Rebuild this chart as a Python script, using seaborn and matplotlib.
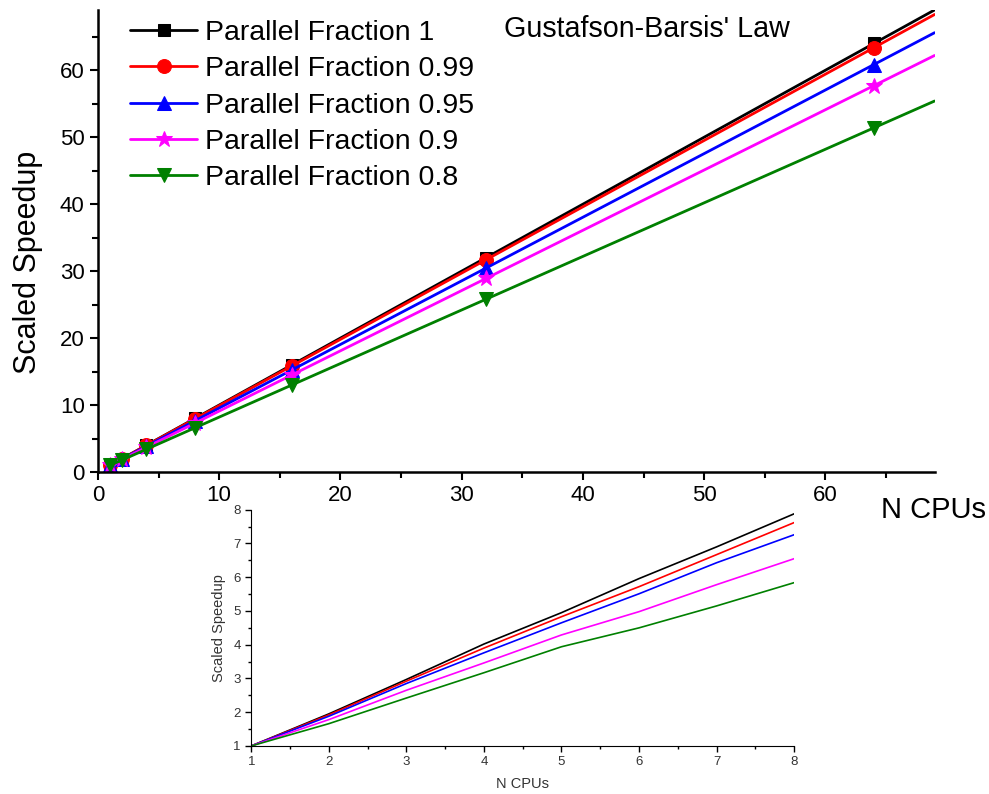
import numpy as np
import pandas as pd
import matplotlib
matplotlib.use("Agg")
import matplotlib.pyplot as plt
from matplotlib.ticker import MultipleLocator
import seaborn as sns

# main chart data
n_cpus = [1, 2, 4, 8, 16, 32, 64, 69]
speed_1 = [1, 2, 4, 8, 16, 32, 64, 69]
speed_099 = [1, 1.99, 3.97, 7.93, 15.85, 31.69, 63.37, 68.32]
speed_095 = [1, 1.95, 3.85, 7.65, 15.25, 30.45, 60.85, 65.6]
speed_09 = [1, 1.9, 3.7, 7.3, 14.5, 28.9, 57.7, 62.2]
speed_08 = [1, 1.8, 3.4, 6.6, 13.0, 25.8, 51.4, 55.4]

# inset data
inset_n = [1, 2, 3, 4, 5, 6, 7, 8]
inset_1 = [1, 1.95, 2.97, 4.02, 4.95, 5.96, 6.9, 7.88]
inset_099 = [1, 1.92, 2.92, 3.9, 4.83, 5.72, 6.67, 7.62]
inset_095 = [1, 1.88, 2.85, 3.76, 4.65, 5.51, 6.43, 7.26]
inset_09 = [1, 1.78, 2.65, 3.46, 4.29, 4.98, 5.78, 6.55]
inset_08 = [1, 1.66, 2.42, 3.17, 3.94, 4.5, 5.15, 5.84]

labels = ["Parallel Fraction 1", "Parallel Fraction 0.99", "Parallel Fraction 0.95",
          "Parallel Fraction 0.9", "Parallel Fraction 0.8"]
colors = ["black", "#ff0000", "#0000ff", "#ff00ff", "#008000"]
markers = ["s", "o", "^", "*", "v"]
msizes = [9, 10, 10, 12, 10]

sns.set_style("ticks", {"axes.edgecolor": "black", "text.color": "black",
                        "axes.labelcolor": "black", "xtick.color": "black",
                        "ytick.color": "black"})
plt.rcParams["font.family"] = ["Liberation Sans", "DejaVu Sans"]

fig = plt.figure(figsize=(9.89, 7.94), dpi=100)
ax = fig.add_axes([0.099, 0.4055, 0.846, 0.582])

main_series = [speed_1, speed_099, speed_095, speed_09, speed_08]
for ys, lab, c, m, ms in zip(main_series, labels, colors, markers, msizes):
    sns.lineplot(x=n_cpus, y=ys, ax=ax, color=c, marker=m, markersize=ms,
                 markeredgecolor=c, markevery=list(range(7)), linewidth=2,
                 label=lab, estimator=None, sort=False)

ax.set_xlim(0, 69)
ax.set_ylim(0, 69)
ax.xaxis.set_major_locator(MultipleLocator(10))
ax.xaxis.set_minor_locator(MultipleLocator(5))
ax.yaxis.set_major_locator(MultipleLocator(10))
ax.yaxis.set_minor_locator(MultipleLocator(5))
ax.tick_params(which="major", length=6, width=1.5, labelsize=16, direction="out")
ax.tick_params(which="minor", length=4, width=1.5, direction="out")
for s in ["left", "bottom"]:
    ax.spines[s].set_linewidth(1.8)
sns.despine(ax=ax)
ax.set_ylabel("Scaled Speedup", fontsize=22)
ax.yaxis.set_label_coords(-0.066, 0.4536)
ax.set_xlabel("")
fig.text(0.891, 0.358, "N CPUs", fontsize=21, ha="left", va="center")
ax.text(0.4855, 0.958, "Gustafson-Barsis' Law", transform=ax.transAxes,
        fontsize=20.6, ha="left", va="center")

leg = ax.legend(loc="upper left", bbox_to_anchor=(0.018, 1.015), frameon=False,
                fontsize=20.5, handlelength=2.35, labelspacing=0.36,
                handletextpad=0.28, borderaxespad=0.2)

# inset
ax2 = fig.add_axes([0.254, 0.0605, 0.549, 0.2975])
inset_series = [inset_1, inset_099, inset_095, inset_09, inset_08]
for ys, c in zip(inset_series, colors):
    sns.lineplot(x=inset_n, y=ys, ax=ax2, color=c, linewidth=1.2,
                 estimator=None, sort=False)
ax2.set_xlim(1, 8)
ax2.set_ylim(1, 8)
ax2.xaxis.set_major_locator(MultipleLocator(1))
ax2.xaxis.set_minor_locator(MultipleLocator(0.5))
ax2.yaxis.set_major_locator(MultipleLocator(1))
ax2.yaxis.set_minor_locator(MultipleLocator(0.5))
ax2.tick_params(which="major", length=4, width=1, labelsize=9.5,
                labelcolor="#333333", direction="out")
ax2.tick_params(which="minor", length=2.5, width=1, direction="out")
ax2.patch.set_alpha(0)
sns.despine(ax=ax2)
ax2.set_xlabel("N CPUs", fontsize=10.5, color="#333333", labelpad=6)
ax2.set_ylabel("Scaled Speedup", fontsize=10.5, color="#333333", labelpad=5)

fig.savefig("out.png", dpi=100)
